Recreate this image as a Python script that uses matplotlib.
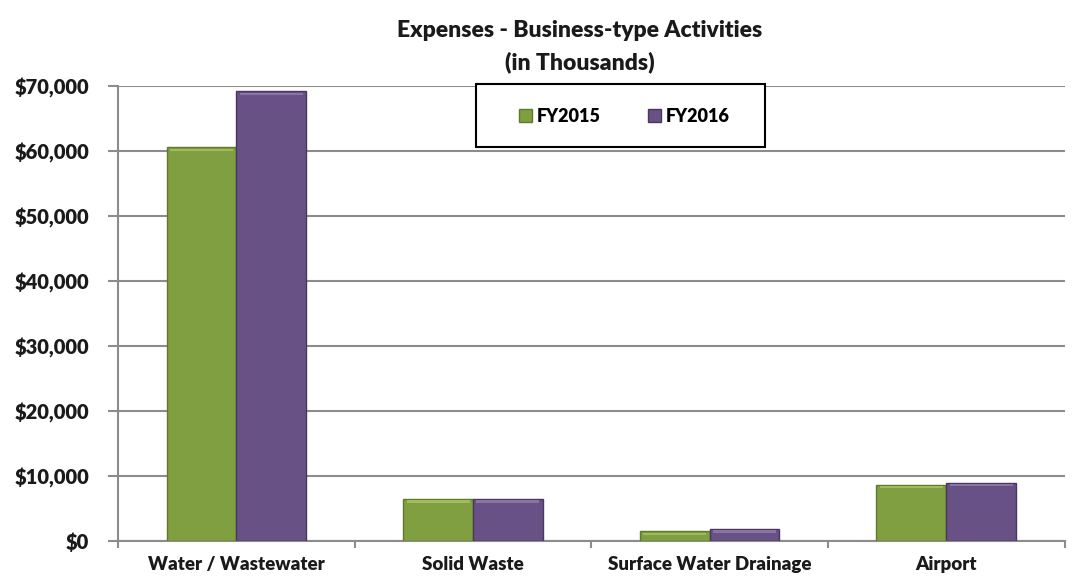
import matplotlib.pyplot as plt
import numpy as np
from matplotlib.ticker import FuncFormatter
from matplotlib.patches import Rectangle

plt.rcParams['font.family'] = ['Lato', 'DejaVu Sans']

# datos (en miles)
categorias = ['Water / Wastewater', 'Solid Waste', 'Surface Water Drainage', 'Airport']
fy2015 = [60600, 6500, 1500, 8700]
fy2016 = [69200, 6500, 1850, 9000]
series = ['FY2015', 'FY2016']

verde = '#7f9f41'
morado = '#685184'

fig = plt.figure(figsize=(10.83, 5.83), dpi=100)
ax = fig.add_axes([0.109, 0.072, 0.874, 0.78])

x = np.arange(len(categorias))
ancho = 0.295
b1 = ax.bar(x - ancho / 2, fy2015, ancho, color=verde, edgecolor='#5f7a2c', linewidth=1, label=series[0], zorder=3)
b2 = ax.bar(x + ancho / 2, fy2016, ancho, color=morado, edgecolor='#4a375f', linewidth=1, label=series[1], zorder=3)

# franja clara arriba (efecto bisel)
for barras, claro in [(b1, '#9dbd57'), (b2, '#8a74a6')]:
    for b in barras:
        h = b.get_height()
        ax.bar(b.get_x() + b.get_width() / 2, 400, b.get_width() * 0.9, bottom=h - 600,
               color=claro, linewidth=0, zorder=4)

ax.set_xlim(-0.5, len(categorias) - 0.5)
ax.set_ylim(0, 70000)
ax.set_yticks(np.arange(0, 70001, 10000))
ax.yaxis.set_major_formatter(FuncFormatter(lambda v, p: f'${v:,.0f}'))
ax.set_xticks(x)
ax.set_xticklabels(categorias)
ax.set_xticks(np.arange(-0.5, len(categorias)), minor=True)

ax.grid(axis='y', color='#8c8c8c', linewidth=1.5, zorder=0)
for s in ['top', 'right']:
    ax.spines[s].set_visible(False)
ax.spines['left'].set_color('#8c8c8c')
ax.spines['left'].set_linewidth(1.5)
ax.spines['bottom'].set_color('#8c8c8c')
ax.spines['bottom'].set_linewidth(1.5)

ax.tick_params(axis='x', which='major', length=0, pad=11)
ax.tick_params(axis='x', which='minor', length=5, color='#8c8c8c', width=1.5)
ax.tick_params(axis='y', length=7, color='#8c8c8c', width=1.5, pad=14)
for lbl in ax.get_xticklabels():
    lbl.set_fontsize(13.5)
    lbl.set_fontweight('heavy')
    lbl.set_color('#1a1a1a')
for lbl in ax.get_yticklabels():
    lbl.set_fontsize(14.5)
    lbl.set_fontweight('heavy')
    lbl.set_color('#1a1a1a')

fig.text(0.535, 0.948, 'Expenses - Business-type Activities', ha='center', va='center',
         fontsize=16.5, fontweight='heavy', color='#1a1a1a')
fig.text(0.535, 0.893, '(in Thousands)', ha='center', va='center',
         fontsize=16.5, fontweight='heavy', color='#1a1a1a')

# caja de la leyenda
caja = Rectangle((0.378, 0.866), 0.306, 0.1385, transform=ax.transAxes, facecolor='white',
                 edgecolor='black', linewidth=1.5, zorder=9, clip_on=False)
ax.add_patch(caja)
leg = ax.legend(loc='center', bbox_to_anchor=(0.535, 0.934), ncol=2, frameon=False,
                handlelength=0.7, handleheight=0.7, handletextpad=0.3, columnspacing=2.6,
                borderaxespad=0, prop={'weight': 'heavy', 'size': 13})
leg.set_zorder(10)

plt.savefig('out.png', dpi=100)
